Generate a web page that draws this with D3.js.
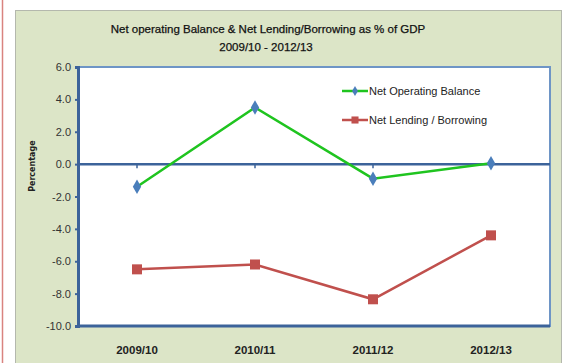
<!DOCTYPE html>
<html>
<head>
<meta charset="utf-8">
<script src="https://cdn.jsdelivr.net/npm/d3@7"></script>
<style>
  body { margin: 0; background: #fff; }
  svg { display: block; font-family: "Liberation Sans", Arial, sans-serif; }
</style>
</head>
<body>
<div id="chart"></div>
<script>
// data
const years = ["2009/10", "2010/11", "2011/12", "2012/13"];
const netOperating = [-1.4, 3.5, -0.9, 0.05];
const netLending = [-6.5, -6.2, -8.35, -4.4];
const yTicks = [6, 4, 2, 0, -2, -4, -6, -8, -10];

const W = 568, H = 363;
const plot = { left: 78, top: 67, right: 550, bottom: 326 };

const svg = d3.select("#chart").append("svg")
    .attr("width", W)
    .attr("height", H);

// red page rule on the left
svg.append("line")
    .attr("x1", 2.5).attr("x2", 2.5).attr("y1", 0).attr("y2", H)
    .style("stroke", "#d9837f").style("stroke-width", 1.5);

// chart panel
svg.append("rect")
    .attr("x", 15.5).attr("y", 10.5)
    .attr("width", 546).attr("height", H)
    .style("fill", "#dce5c7")
    .style("stroke", "#b4b8ad");

// title
svg.append("text")
    .attr("x", 268).attr("y", 33)
    .attr("text-anchor", "middle")
    .style("font-size", "11.5px").style("fill", "#111")
    .style("stroke", "#111").style("stroke-width", 0.25)
    .text("Net operating Balance & Net Lending/Borrowing as % of GDP");
svg.append("text")
    .attr("x", 266).attr("y", 51)
    .attr("text-anchor", "middle")
    .style("font-size", "11.5px").style("fill", "#111")
    .style("stroke", "#111").style("stroke-width", 0.25)
    .text("2009/10 - 2012/13");

const x = d3.scaleBand()
    .domain(years)
    .range([plot.left, plot.right]);

const y = d3.scaleLinear()
    .domain([-10, 6])
    .range([plot.bottom, plot.top]);

// plot area
svg.append("rect")
    .attr("x", plot.left).attr("y", plot.top)
    .attr("width", plot.right - plot.left).attr("height", plot.bottom - plot.top)
    .style("fill", "#fff")
    .style("stroke", "#6e95c6").style("stroke-width", 2);

// y axis
const yAxis = svg.append("g")
    .attr("transform", `translate(${plot.left},0)`)
    .call(d3.axisLeft(y).tickValues(yTicks).tickSize(3).tickPadding(4)
        .tickFormat(d => d.toFixed(1)));
yAxis.select(".domain").style("stroke", "#3c639a").style("stroke-width", 3);
yAxis.selectAll(".tick line").style("stroke", "#3c639a").style("stroke-width", 2);
yAxis.selectAll(".tick text")
    .style("font-size", "11px").style("fill", "#333");

// zero line with category ticks
svg.append("line")
    .attr("x1", plot.left).attr("x2", plot.right)
    .attr("y1", y(0)).attr("y2", y(0))
    .style("stroke", "#3c639a").style("stroke-width", 2.5);
svg.selectAll(".ztick")
    .data(years)
    .join("line")
    .attr("x1", d => x(d) + x.bandwidth() / 2).attr("x2", d => x(d) + x.bandwidth() / 2)
    .attr("y1", y(0)).attr("y2", y(0) + 4)
    .style("stroke", "#3c639a").style("stroke-width", 1.5);

// bottom axis line
svg.append("line")
    .attr("x1", plot.left).attr("x2", plot.right)
    .attr("y1", plot.bottom).attr("y2", plot.bottom)
    .style("stroke", "#3c639a").style("stroke-width", 3);

// x labels
svg.selectAll(".xlab")
    .data(years)
    .join("text")
    .attr("x", d => x(d) + x.bandwidth() / 2)
    .attr("y", 354)
    .attr("text-anchor", "middle")
    .style("font-size", "11.5px").style("font-weight", "bold").style("fill", "#222")
    .text(d => d);

// y title
svg.append("text")
    .attr("transform", `translate(35,${y(0) + 2}) rotate(-90)`)
    .attr("text-anchor", "middle")
    .style("font-family", "'DejaVu Sans', sans-serif")
    .style("font-size", "8px").style("font-weight", "bold").style("fill", "#222")
    .text("Percentage");

const line = d3.line()
    .x((d, i) => x(years[i]) + x.bandwidth() / 2)
    .y(d => y(d));

// Net Operating Balance
svg.append("path")
    .datum(netOperating)
    .attr("d", line)
    .style("fill", "none").style("stroke", "#1fc41f").style("stroke-width", 2.5);
svg.selectAll(".dia")
    .data(netOperating)
    .join("path")
    .attr("d", d3.symbol(d3.symbolDiamond, 60))
    .attr("transform", (d, i) => `translate(${x(years[i]) + x.bandwidth() / 2},${y(d)})`)
    .style("fill", "#4a7ebb");

// Net Lending / Borrowing
svg.append("path")
    .datum(netLending)
    .attr("d", line)
    .style("fill", "none").style("stroke", "#c0504d").style("stroke-width", 2.5);
svg.selectAll(".sq")
    .data(netLending)
    .join("rect")
    .attr("x", (d, i) => x(years[i]) + x.bandwidth() / 2 - 5)
    .attr("y", d => y(d) - 5)
    .attr("width", 10).attr("height", 10)
    .style("fill", "#c0504d");

// legend
const legend = [
    { name: "Net Operating Balance", color: "#1fc41f", mark: "diamond", y: 91 },
    { name: "Net Lending / Borrowing", color: "#c0504d", mark: "square", y: 120 }
];
const lg = svg.selectAll(".legend")
    .data(legend)
    .join("g")
    .attr("transform", d => `translate(342,${d.y})`);
lg.append("line")
    .attr("x1", 0).attr("x2", 26)
    .style("stroke", d => d.color).style("stroke-width", 2.5);
lg.append("path")
    .attr("transform", "translate(13,0)")
    .attr("d", d => d.mark == "diamond" ? d3.symbol(d3.symbolDiamond, 30)() : d3.symbol(d3.symbolSquare, 50)())
    .style("fill", d => d.mark == "diamond" ? "#4a7ebb" : "#c0504d");
lg.append("text")
    .attr("x", 27).attr("dy", "0.35em")
    .style("font-size", "11px").style("fill", "#222")
    .text(d => d.name);
</script>
</body>
</html>
